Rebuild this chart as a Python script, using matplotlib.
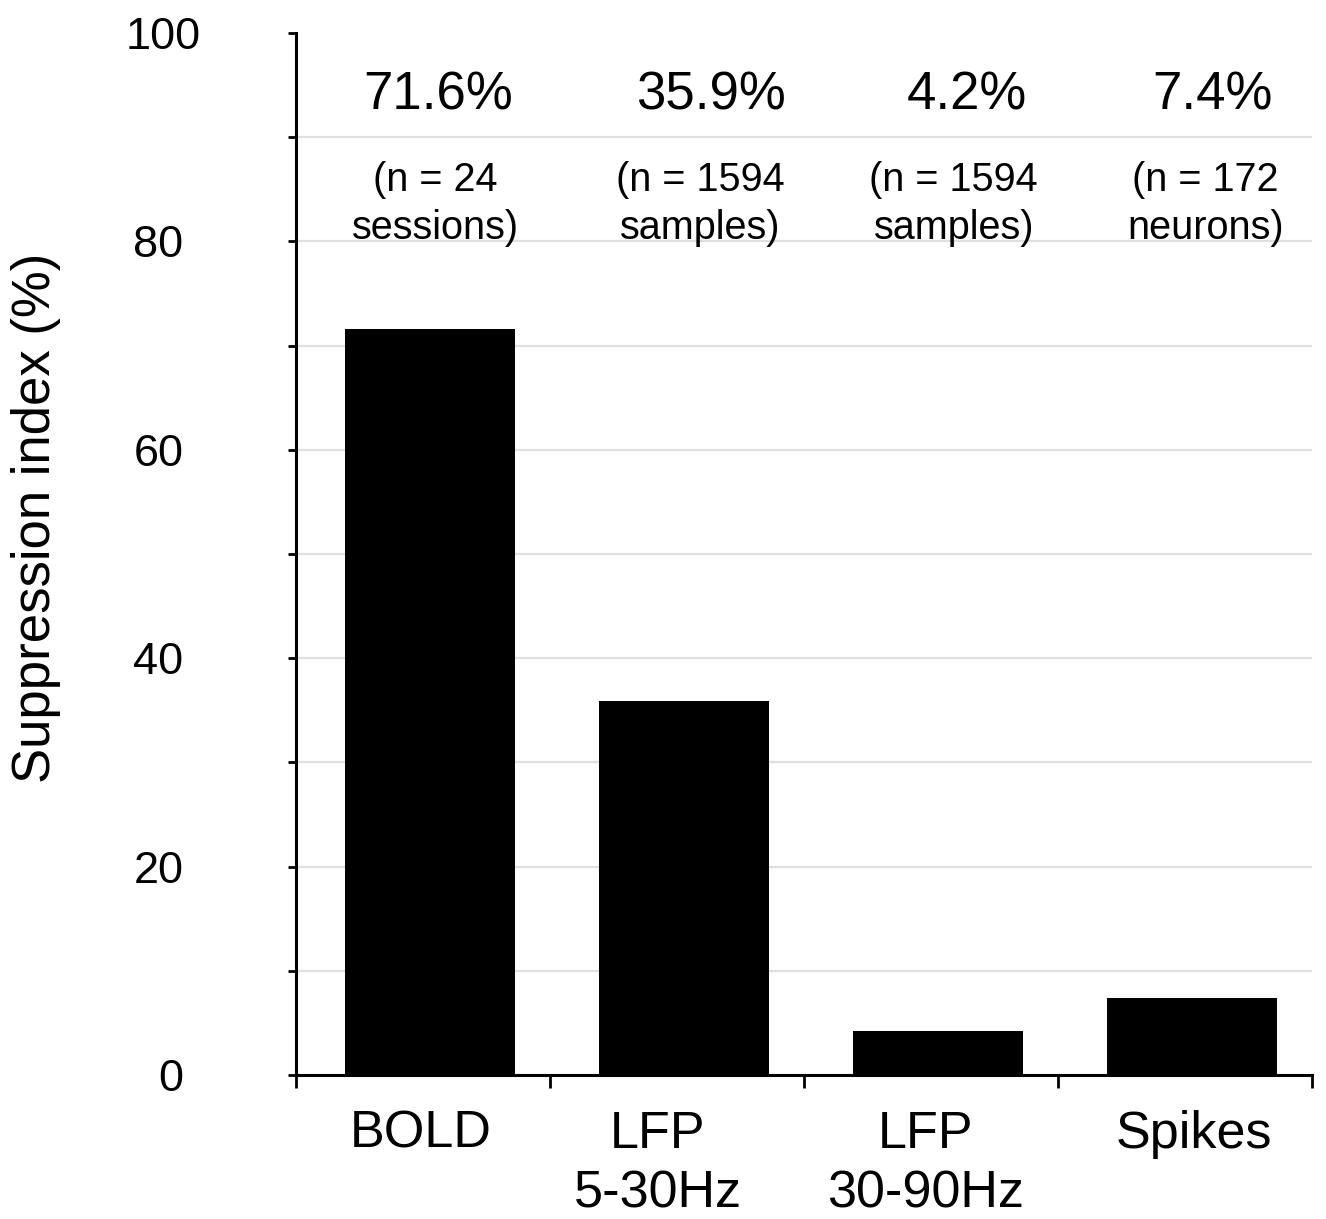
import numpy as np
import matplotlib.pyplot as plt
import matplotlib.transforms as mtransforms

# suppression index per signal type
categories = ['BOLD', 'LFP\n5-30Hz', 'LFP\n30-90Hz', 'Spikes']
suppression = [71.6, 35.9, 4.2, 7.4]
pct_labels = ['71.6%', '35.9%', '4.2%', '7.4%']
n_labels = ['(n = 24\nsessions)', '(n = 1594\nsamples)', '(n = 1594\nsamples)', '(n = 172\nneurons)']

plt.rcParams['font.family'] = ['Liberation Sans', 'DejaVu Sans']

fig = plt.figure(figsize=(13.26, 12.19), dpi=100)
ax = fig.add_axes([0.2232, 0.1181, 0.7662, 0.8548])

x = np.arange(len(categories))
shift = 0.027
ax.bar(x + shift, suppression, width=0.67, color='black', zorder=3)

# light grid every 10
for yv in range(10, 100, 10):
    ax.axhline(yv, color='#e0e0e0', lw=1.6, zorder=1)

ax.set_xlim(-0.5, 3.5)
ax.set_ylim(0, 100)
ax.set_yticks(range(0, 101, 20))
ax.set_yticks(range(10, 100, 20), minor=True)
ax.tick_params(axis='y', which='both', direction='out', length=6, width=2, labelsize=32.5, pad=75)
for lbl in ax.get_yticklabels():
    lbl.set_horizontalalignment('right')
# top label sits a little further right
top = ax.get_yticklabels()[-1]
top.set_transform(top.get_transform() + mtransforms.ScaledTranslation(0.17, 0, fig.dpi_scale_trans))

# category labels, nudged per label
label_x = x + np.array([-0.008, -0.075, -0.02, 0.035])
ax.set_xticks(label_x)
ax.set_xticklabels(categories, linespacing=1.28)
ax.set_xticks(np.arange(-0.5, 4, 1), minor=True)
ax.tick_params(axis='x', which='major', length=0, labelsize=37.5, pad=25)
ax.tick_params(axis='x', which='minor', direction='out', length=9, width=2)

for side in ['top', 'right']:
    ax.spines[side].set_visible(False)
for side in ['left', 'bottom']:
    ax.spines[side].set_linewidth(2.2)

ax.set_ylabel('Suppression index (%)', fontsize=38)
ax.yaxis.set_label_coords(-0.2313, 0.535)

# value and sample size annotations above the bars
offsets = [0.06, 0.135, 0.14, 0.11]
n_offsets = [0.05, 0.09, 0.09, 0.08]
for i in range(len(categories)):
    ax.text(x[i] + offsets[i], 94.0, pct_labels[i], ha='center', va='center', fontsize=38)
    ax.text(x[i] + n_offsets[i], 83.6, n_labels[i], ha='center', va='center', fontsize=28.5,
            linespacing=1.35)

fig.savefig('out.png', dpi=100)
